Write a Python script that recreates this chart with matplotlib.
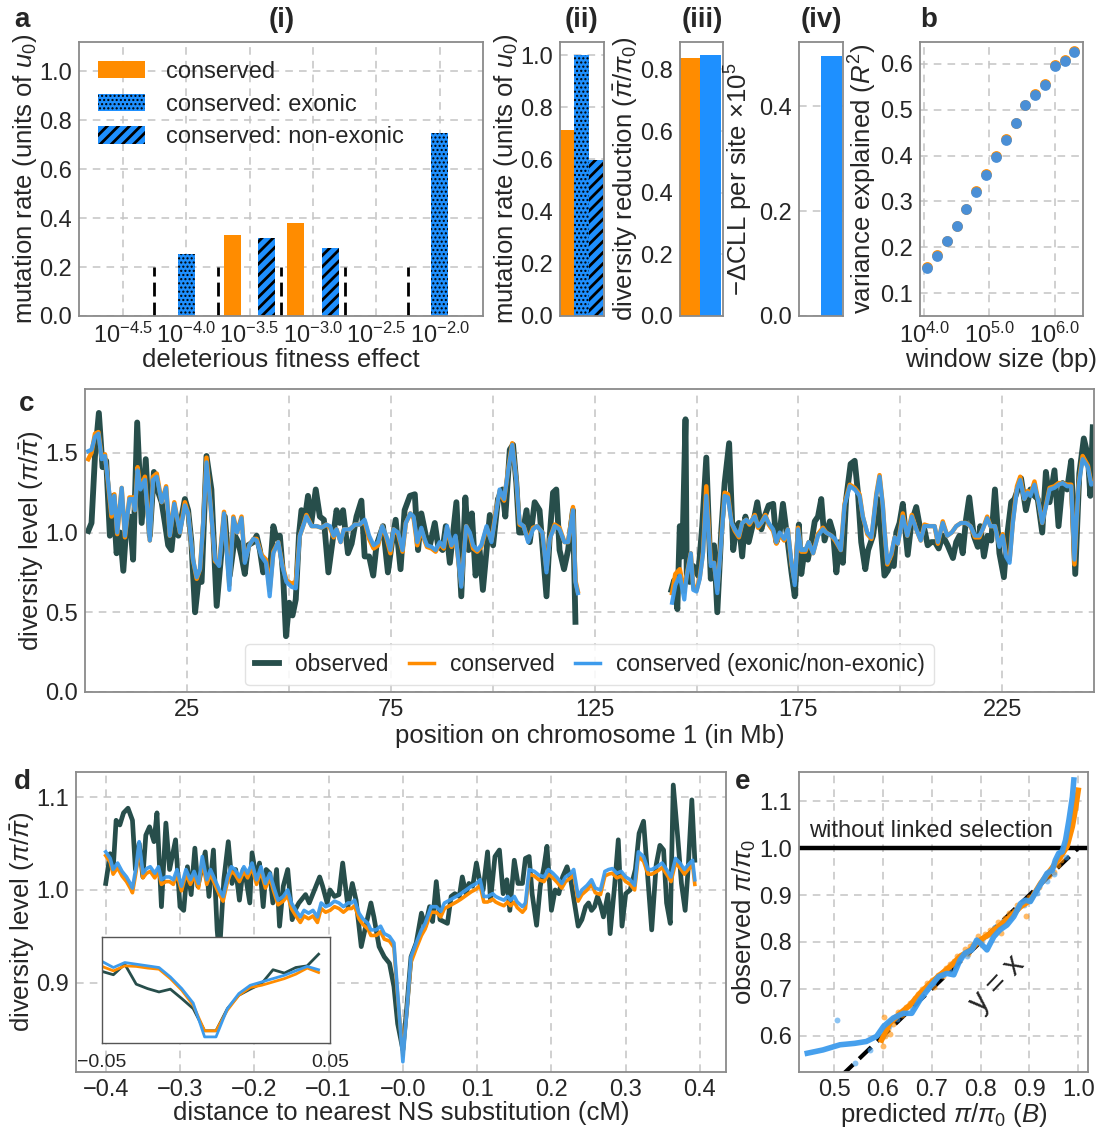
import numpy as np
import matplotlib
matplotlib.use("Agg")
import matplotlib.pyplot as plt
from matplotlib.lines import Line2D

# ---------------- data ----------------
# (a-i) distribution of fitness effects
dfe_labels = ["$10^{-4.5}$", "$10^{-4.0}$", "$10^{-3.5}$", "$10^{-3.0}$", "$10^{-2.5}$", "$10^{-2.0}$"]
dfe_conserved = [0.0, 0.0, 0.330, 0.382, 0.0, 0.0]
dfe_exonic = [0.0, 0.252, 0.0, 0.0, 0.0, 0.748]
dfe_nonexonic = [0.0, 0.0, 0.317, 0.280, 0.0, 0.0]
dfe_marker_height = 0.2

# (a-ii) total mutation rate, (a-iii) mean reduction, (a-iv) -dCLL
total_u = [0.713, 1.0, 0.598]
mean_reduction = [0.838, 0.846]
delta_cll = [0.0, 0.497]

# (b) variance explained vs window size
window_bp = [11220, 15850, 22390, 31620, 44670, 63100, 89130, 125900,
             177800, 251200, 354800, 501200, 707900, 1000000, 1413000, 1995000]
r2_conserved = [0.156, 0.183, 0.214, 0.247, 0.284, 0.322, 0.359, 0.399,
                0.436, 0.472, 0.511, 0.534, 0.557, 0.597, 0.609, 0.628]
r2_exonic = [0.155, 0.182, 0.213, 0.246, 0.283, 0.321, 0.358, 0.398,
             0.435, 0.471, 0.510, 0.533, 0.555, 0.595, 0.607, 0.626]

# (c) chromosome 1 diversity maps (Mb, pi / mean pi)
c_obs_pos = [0.8, 1.6, 2.45, 3.4, 4.3, 5.2, 6.1, 6.9, 7.75, 8.6,
             9.4, 10.2, 11.0, 11.8, 12.8, 13.9, 14.9, 15.9, 16.9, 18.0,
             18.8, 19.6, 20.4, 21.2, 22.1, 22.9, 23.7, 24.5, 25.3, 26.1,
             27.0, 27.8, 28.6, 29.8, 31.0, 32.3, 33.5, 34.3, 35.5, 36.8,
             37.6, 38.4, 39.2, 40.0, 41.3, 42.1, 42.9, 43.7, 44.5, 45.3,
             46.2, 47.0, 47.8, 48.6, 49.3, 50.1, 50.9, 51.7, 52.5, 53.1,
             54.0, 54.7, 55.5, 56.6, 57.6, 58.6, 59.7, 60.9, 61.7, 62.5,
             63.3, 64.5, 65.4, 66.6, 67.8, 68.6, 69.7, 70.7, 71.5, 72.3,
             73.1, 74.3, 75.2, 76.2, 77.4, 78.4, 79.7, 80.9, 81.7, 82.5,
             83.6, 84.6, 85.8, 86.6, 87.7, 88.5, 89.5, 91.1, 92.3, 93.3,
             94.1, 94.9, 95.8, 96.8, 97.6, 99.3, 100.1, 101.3, 102.4, 103.1,
             104.2, 105.0, 105.8, 106.5, 107.4, 108.3, 109.1, 110.3, 111.5, 113.2,
             114.0, 114.8, 115.6, 116.4, 117.5, 118.5, 119.7, 120.3,
             130.0,
             143.85, 144.5, 145.3, 145.9, 146.5, 147.3, 147.6, 148.3, 149.2, 150.4,
             151.4, 152.4, 153.5, 154.3, 155.1, 156.1, 156.9, 158.0, 159.0, 159.8,
             160.4, 161.2, 162.0, 162.8, 163.9, 164.9, 165.9, 166.7, 167.7, 168.8,
             169.6, 170.4, 171.2, 172.3, 173.3, 174.1, 175.1, 175.7, 176.5, 177.3,
             178.2, 179.0, 179.8, 180.6, 181.4, 182.7, 183.5, 184.3, 185.1, 185.9,
             186.7, 187.8, 188.8, 189.6, 190.4, 191.4, 192.1, 193.3, 194.5, 195.3,
             196.1, 196.9, 197.7, 198.4, 199.0, 199.8, 200.6, 201.8, 202.7, 203.9,
             204.9, 205.9, 206.7, 207.6, 208.5, 209.4, 210.4, 211.6, 212.9, 213.7,
             214.5, 215.3, 216.1, 216.9, 218.0, 219.0, 219.6, 220.5, 221.4, 222.3,
             223.2, 224.3, 225.4, 226.2, 227.2, 228.0, 228.8, 229.6, 230.8, 231.9,
             232.9, 233.7, 234.8, 235.7, 236.6, 237.8, 238.8, 239.8, 240.9, 241.9,
             242.9, 243.9, 245.0, 246.0, 246.6, 247.2]
c_obs = [1.01, 1.06, 1.48, 1.75, 1.41, 1.45, 0.98, 1.23, 0.87, 1.00,
         0.76, 1.06, 1.10, 0.83, 1.69, 1.06, 1.46, 0.98, 1.38, 1.25,
         1.19, 1.06, 0.92, 0.89, 1.12, 0.98, 1.10, 1.21, 1.14, 0.94,
         0.50, 0.69, 0.69, 1.48, 1.27, 0.54, 0.89, 1.10, 0.73, 0.98,
         0.94, 0.85, 0.74, 0.92, 0.94, 0.98, 0.89, 0.75, 0.81, 0.73,
         1.04, 0.96, 0.98, 0.73, 0.35, 0.56, 0.48, 0.58, 0.99, 1.14,
         1.10, 1.23, 1.06, 1.27, 1.10, 1.08, 0.75, 0.98, 1.14, 1.06,
         1.14, 0.87, 0.93, 1.10, 1.20, 0.85, 0.85, 0.73, 0.92, 0.98,
         1.04, 0.75, 0.92, 1.08, 0.77, 1.14, 1.23, 1.24, 0.89, 1.12,
         0.98, 0.92, 1.06, 0.92, 0.89, 1.04, 0.81, 1.19, 0.60, 1.22,
         0.89, 1.12, 0.73, 0.89, 0.64, 1.11, 0.92, 1.21, 1.27, 1.10,
         1.52, 1.55, 1.31, 1.00, 1.00, 1.14, 0.94, 1.19, 1.14, 0.60,
         0.98, 1.25, 1.27, 0.89, 0.77, 0.89, 1.14, 0.44,
         np.nan,
         0.64, 0.70, 0.52, 1.04, 0.85, 1.71, 0.74, 0.69, 0.79, 0.73,
         1.04, 1.47, 0.71, 0.92, 0.50, 1.02, 1.31, 1.56, 0.89, 1.04,
         1.06, 0.85, 1.10, 0.94, 1.06, 1.19, 1.02, 1.10, 1.17, 1.18,
         0.94, 1.00, 1.18, 0.96, 0.75, 0.60, 1.05, 0.74, 0.89, 0.83,
         0.94, 1.07, 1.10, 1.21, 0.95, 1.07, 1.00, 0.75, 0.94, 0.81,
         1.21, 1.43, 1.45, 1.25, 0.94, 0.77, 0.89, 0.98, 1.21, 0.99,
         0.73, 0.76, 0.81, 0.79, 1.00, 1.06, 1.18, 0.86, 1.06, 1.16,
         1.02, 1.02, 0.92, 0.94, 0.94, 0.90, 0.98, 0.92, 0.84, 0.94,
         0.98, 0.87, 1.08, 1.22, 0.98, 0.91, 1.04, 0.85, 0.98, 0.95,
         1.27, 0.87, 0.72, 0.98, 1.19, 1.21, 1.27, 1.34, 1.14, 1.27,
         1.23, 1.21, 1.00, 1.38, 1.19, 1.39, 1.04, 1.31, 1.27, 1.45,
         0.74, 1.37, 1.59, 1.48, 1.23, 1.66]

c_pred_pos = [0.8, 1.6, 2.45, 3.3, 4.1, 4.9, 5.7, 6.5, 7.2, 7.9,
              9.0, 9.8, 10.9, 11.7, 12.25, 12.9, 13.6, 14.7, 15.9, 16.7,
              17.6, 18.8, 19.9, 20.8, 21.9, 22.7, 23.3, 24.5, 25.3, 26.5,
              27.4, 28.2, 29.0, 29.8, 30.8, 31.9, 32.9, 34.1, 35.4, 36.4,
              37.3, 38.4, 39.2, 40.3, 41.3, 42.1, 43.3, 44.4, 45.3, 46.2,
              47.4, 48.4, 49.4, 50.6, 51.7, 52.7, 53.5, 54.3, 55.6, 56.8,
              58.0, 59.2, 60.1, 61.0, 61.7, 62.7, 63.5, 65.0, 66.2, 67.4,
              68.6, 69.7, 70.8, 71.9, 72.9, 73.9, 74.9, 75.7, 76.8, 77.9,
              78.7, 79.8, 80.6, 81.5, 82.5, 83.3, 83.9, 85.0, 86.0, 87.0,
              88.0, 88.8, 89.9, 90.9, 92.3, 93.5, 94.4, 95.2, 96.2, 97.2,
              98.5, 99.7, 100.9, 101.7, 102.8, 103.8, 104.8, 105.8, 106.6, 107.6,
              108.7, 109.9, 110.9, 112.2, 113.2, 114.0, 115.2, 116.4, 117.6, 118.5,
              119.7, 120.3, 120.9,
              130.0,
              144.0, 144.8, 145.9, 147.0, 147.5, 148.6, 149.2, 150.0, 150.8, 151.6,
              152.4, 153.5, 154.3, 155.1, 156.1, 156.9, 157.7, 158.6, 159.4, 160.4,
              161.2, 162.2, 163.0, 164.3, 165.1, 165.9, 166.9, 167.7, 168.8, 169.6,
              170.4, 171.5, 172.4, 173.3, 174.1, 174.9, 175.7, 176.7, 177.5, 178.6,
              179.8, 181.0, 181.8, 183.1, 184.0, 185.4, 186.3, 187.6, 188.8, 190.0,
              190.8, 191.9, 192.9, 194.1, 194.9, 195.7, 196.1, 196.8, 197.8, 198.6,
              199.4, 200.6, 201.7, 202.8, 203.9, 205.0, 205.9, 207.1, 208.4, 209.2,
              210.4, 211.5, 212.6, 213.7, 214.9, 216.1, 217.2, 218.3, 219.4, 220.2,
              221.3, 222.1, 223.2, 224.3, 225.1, 225.9, 226.8, 227.6, 228.6, 229.4,
              230.4, 231.2, 231.9, 232.9, 233.9, 234.8, 235.7, 236.6, 237.8, 238.8,
              239.8, 240.9, 241.9, 242.7, 243.7, 244.7, 246.0, 246.8, 247.4]
c_exonic = [1.51, 1.52, 1.60, 1.62, 1.46, 1.48, 1.31, 1.12, 1.23, 1.00,
            1.28, 0.98, 1.21, 1.21, 1.14, 1.39, 1.27, 1.33, 0.95, 1.33,
            1.35, 1.19, 1.28, 0.98, 1.18, 1.08, 1.00, 1.17, 1.12, 0.83,
            0.72, 0.77, 1.06, 1.44, 1.17, 0.83, 0.79, 1.12, 0.64, 1.09,
            1.00, 1.09, 0.81, 0.92, 0.96, 0.95, 0.85, 0.81, 0.60, 0.87,
            0.94, 0.79, 0.69, 0.66, 0.65, 0.98, 1.04, 1.10, 1.04, 1.04,
            1.03, 1.05, 1.04, 0.98, 1.02, 0.94, 1.02, 1.02, 1.05, 1.05,
            1.08, 0.98, 0.92, 0.94, 1.04, 0.98, 0.89, 1.02, 1.00, 0.89,
            1.06, 1.12, 1.10, 0.94, 1.03, 0.96, 0.92, 0.91, 0.89, 0.94,
            0.91, 1.04, 0.92, 0.98, 0.66, 1.04, 1.00, 0.92, 0.89, 0.92,
            1.04, 0.94, 1.14, 1.27, 1.21, 1.39, 1.55, 1.33, 1.06, 1.04,
            0.94, 1.02, 1.04, 1.00, 0.75, 0.96, 1.04, 1.02, 0.94, 0.94,
            1.14, 0.69, 0.62,
            np.nan,
            0.56, 0.67, 0.73, 0.58, 0.71, 0.87, 0.64, 0.63, 0.71, 0.87,
            1.23, 0.79, 0.81, 0.62, 0.96, 1.23, 1.22, 1.06, 1.02, 0.98,
            1.06, 1.08, 1.06, 1.10, 1.04, 1.06, 1.10, 1.06, 1.02, 0.94,
            1.00, 0.96, 1.02, 0.81, 0.67, 1.02, 0.89, 0.89, 0.94, 0.87,
            0.98, 1.02, 1.00, 0.98, 0.96, 0.89, 1.17, 1.29, 1.27, 1.23,
            1.10, 1.00, 0.97, 1.23, 1.35, 1.17, 1.02, 0.81, 0.87, 0.97,
            0.93, 1.10, 0.98, 1.10, 1.02, 0.95, 1.04, 1.04, 1.04, 0.94,
            1.06, 0.98, 1.00, 1.04, 1.06, 1.06, 1.04, 0.98, 0.98, 1.02,
            1.09, 1.04, 1.04, 0.91, 0.98, 0.85, 0.81, 1.06, 1.27, 1.33,
            1.21, 1.25, 1.23, 1.30, 1.19, 1.06, 1.16, 1.27, 1.28, 1.30,
            1.31, 1.29, 1.29, 0.83, 1.29, 1.46, 1.41, 1.30, 1.31]
c_conserved = [1.46, 1.50, 1.62, 1.63, 1.47, 1.49, 1.30, 1.10, 1.24, 0.99,
               1.28, 0.97, 1.22, 1.22, 1.14, 1.41, 1.28, 1.35, 0.95, 1.35,
               1.37, 1.19, 1.29, 0.98, 1.19, 1.08, 1.00, 1.19, 1.12, 0.83,
               0.71, 0.77, 1.06, 1.47, 1.17, 0.82, 0.80, 1.13, 0.67, 1.10,
               1.00, 1.10, 0.82, 0.92, 0.96, 0.96, 0.86, 0.83, 0.64, 0.88,
               0.94, 0.80, 0.70, 0.68, 0.69, 0.98, 1.04, 1.11, 1.04, 1.04,
               1.03, 1.05, 1.03, 0.97, 1.02, 0.94, 1.02, 1.02, 1.05, 1.05,
               1.07, 0.96, 0.90, 0.92, 1.04, 0.97, 0.87, 1.02, 0.99, 0.88,
               1.06, 1.12, 1.09, 0.92, 1.02, 0.95, 0.91, 0.90, 0.88, 0.93,
               0.90, 1.03, 0.91, 0.97, 0.67, 1.04, 0.99, 0.90, 0.88, 0.91,
               1.03, 0.95, 1.15, 1.26, 1.20, 1.40, 1.56, 1.33, 1.05, 1.04,
               0.95, 1.03, 1.04, 1.00, 0.77, 0.96, 1.05, 1.03, 0.94, 0.94,
               1.16, 0.70, 0.63,
               np.nan,
               0.62, 0.74, 0.77, 0.63, 0.72, 0.87, 0.66, 0.64, 0.72, 0.88,
               1.29, 0.81, 0.81, 0.64, 0.97, 1.25, 1.24, 1.06, 1.01, 0.97,
               1.06, 1.08, 1.05, 1.11, 1.03, 1.06, 1.11, 1.05, 1.01, 0.93,
               0.99, 0.95, 1.02, 0.80, 0.69, 1.03, 0.88, 0.88, 0.94, 0.87,
               0.99, 1.03, 1.00, 0.98, 0.95, 0.89, 1.18, 1.30, 1.28, 1.24,
               1.10, 0.99, 0.96, 1.24, 1.36, 1.17, 1.02, 0.80, 0.86, 0.97,
               0.93, 1.12, 0.98, 1.11, 1.02, 0.95, 1.05, 1.04, 1.04, 0.93,
               1.07, 0.98, 1.00, 1.04, 1.06, 1.06, 1.04, 0.97, 0.97, 1.02,
               1.10, 1.04, 1.04, 0.92, 0.99, 0.86, 0.83, 1.07, 1.29, 1.35,
               1.21, 1.26, 1.24, 1.32, 1.19, 1.06, 1.17, 1.28, 1.29, 1.31,
               1.31, 1.30, 1.30, 0.80, 1.30, 1.48, 1.42, 1.31, 1.31]

# (d) diversity around non-synonymous substitutions (cM)
d_obs_pos = [-0.400, -0.394, -0.390, -0.386, -0.381, -0.376, -0.370, -0.364, -0.360, -0.355,
             -0.350, -0.346, -0.341, -0.335, -0.331, -0.325, -0.319, -0.314, -0.310, -0.306,
             -0.300, -0.295, -0.290, -0.285, -0.280, -0.276, -0.271, -0.266, -0.261, -0.255,
             -0.250, -0.247, -0.241, -0.235, -0.230, -0.225, -0.220, -0.215, -0.211, -0.206,
             -0.203, -0.197, -0.193, -0.188, -0.184, -0.179, -0.175, -0.170, -0.166, -0.161,
             -0.155, -0.149, -0.144, -0.140, -0.135, -0.131, -0.126, -0.121, -0.117, -0.112,
             -0.108, -0.102, -0.098, -0.092, -0.086, -0.081, -0.074, -0.068, -0.063, -0.056,
             -0.050, -0.043, -0.039, -0.032, -0.025, -0.018, -0.012, -0.007, 0.000, 0.005,
             0.011, 0.018, 0.025, 0.030, 0.036, 0.040, 0.045, 0.050, 0.055, 0.060,
             0.065, 0.070, 0.076, 0.080, 0.085, 0.089, 0.094, 0.099, 0.104, 0.108,
             0.114, 0.118, 0.124, 0.130, 0.135, 0.140, 0.144, 0.150, 0.155, 0.161,
             0.165, 0.170, 0.174, 0.180, 0.185, 0.190, 0.194, 0.200, 0.205, 0.210,
             0.215, 0.221, 0.226, 0.230, 0.236, 0.241, 0.246, 0.250, 0.254, 0.258,
             0.262, 0.266, 0.270, 0.276, 0.279, 0.285, 0.290, 0.295, 0.300, 0.306,
             0.313, 0.318, 0.324, 0.330, 0.335, 0.341, 0.346, 0.351, 0.355, 0.360,
             0.364, 0.370, 0.375, 0.380, 0.384, 0.389, 0.393]
d_obs = [1.007, 1.039, 1.022, 1.075, 1.070, 1.083, 1.088, 1.075, 1.022, 1.050,
         1.014, 1.059, 1.068, 1.052, 1.083, 0.982, 1.072, 1.022, 1.038, 1.054,
         0.982, 0.978, 1.025, 0.995, 1.045, 1.004, 1.022, 1.041, 0.993, 1.043,
         0.957, 0.930, 1.011, 1.052, 1.007, 1.022, 0.989, 1.022, 1.011, 0.986,
         1.040, 1.011, 1.029, 0.982, 1.022, 1.018, 0.986, 1.022, 0.961, 1.004,
         1.022, 0.968, 0.980, 0.986, 0.991, 0.995, 0.986, 0.996, 1.004, 1.014,
         1.004, 0.986, 1.000, 0.993, 0.995, 1.029, 0.982, 1.007, 0.989, 0.939,
         0.961, 0.986, 0.971, 0.939, 0.928, 0.921, 0.896, 0.856, 0.828, 0.871,
         0.928, 0.943, 0.975, 0.961, 0.982, 0.966, 1.009, 0.968, 0.966, 0.964,
         0.993, 0.996, 0.993, 1.014, 0.996, 1.007, 1.004, 1.029, 1.007, 1.000,
         1.041, 0.989, 1.036, 1.043, 0.996, 1.011, 0.978, 1.032, 1.007, 1.007,
         1.034, 1.036, 0.996, 0.962, 1.004, 1.025, 1.047, 0.978, 1.000, 0.996,
         1.014, 1.025, 1.011, 0.991, 0.961, 0.968, 0.982, 0.986, 0.978, 0.982,
         0.993, 0.984, 0.971, 0.995, 0.953, 1.004, 1.054, 0.961, 0.996, 1.000,
         1.022, 1.061, 1.074, 1.011, 0.957, 1.027, 1.048, 1.043, 0.986, 0.964,
         1.113, 1.057, 1.007, 0.978, 1.022, 1.097, 1.032]

d_pred_pos = [-0.400, -0.394, -0.390, -0.384, -0.378, -0.372, -0.367, -0.364, -0.359, -0.355,
              -0.350, -0.345, -0.340, -0.334, -0.329, -0.325, -0.319, -0.314, -0.309, -0.304,
              -0.298, -0.292, -0.286, -0.281, -0.275, -0.270, -0.264, -0.259, -0.253, -0.247,
              -0.242, -0.236, -0.231, -0.226, -0.220, -0.214, -0.209, -0.203, -0.197, -0.191,
              -0.185, -0.179, -0.174, -0.168, -0.161, -0.155, -0.150, -0.144, -0.138, -0.133,
              -0.127, -0.121, -0.115, -0.110, -0.104, -0.098, -0.092, -0.086, -0.080, -0.074,
              -0.069, -0.065, -0.059, -0.054, -0.047, -0.043, -0.036, -0.030, -0.025, -0.018,
              -0.012, -0.008, 0.000, 0.011, 0.018, 0.025, 0.030, 0.038, 0.045, 0.051,
              0.056, 0.063, 0.072, 0.078, 0.085, 0.092, 0.099, 0.104, 0.109, 0.114,
              0.121, 0.125, 0.130, 0.136, 0.141, 0.145, 0.150, 0.154, 0.161, 0.165,
              0.170, 0.177, 0.183, 0.190, 0.196, 0.202, 0.208, 0.214, 0.219, 0.226,
              0.230, 0.236, 0.241, 0.248, 0.254, 0.259, 0.266, 0.272, 0.277, 0.282,
              0.288, 0.294, 0.300, 0.306, 0.312, 0.317, 0.324, 0.330, 0.335, 0.342,
              0.349, 0.355, 0.361, 0.367, 0.373, 0.379, 0.384, 0.390, 0.393]
d_exonic = [1.041, 1.034, 1.022, 1.029, 1.020, 1.014, 1.007, 1.002, 1.025, 1.052,
            1.018, 1.023, 1.025, 1.018, 1.025, 1.011, 1.014, 1.014, 1.011, 1.022,
            1.004, 1.022, 1.011, 1.020, 1.007, 1.036, 1.011, 1.022, 1.011, 1.000,
            0.993, 1.014, 1.025, 1.022, 1.014, 1.025, 1.018, 1.029, 1.011, 1.025,
            1.007, 1.018, 1.004, 0.989, 0.993, 1.000, 0.986, 0.978, 0.971, 0.978,
            0.975, 0.978, 0.971, 0.986, 0.982, 0.984, 0.988, 0.986, 0.982, 0.986,
            0.986, 0.989, 0.975, 0.969, 0.964, 0.957, 0.957, 0.961, 0.953, 0.950,
            0.943, 0.899, 0.815, 0.928, 0.943, 0.957, 0.964, 0.982, 0.982, 0.977,
            0.986, 0.989, 0.993, 0.996, 1.000, 1.004, 1.007, 1.011, 0.993, 0.993,
            0.996, 0.993, 0.991, 0.989, 0.993, 0.989, 0.993, 0.987, 0.982, 0.986,
            1.022, 1.020, 1.016, 1.014, 1.022, 1.018, 1.013, 1.007, 1.014, 1.018,
            1.022, 0.993, 1.000, 1.005, 1.011, 1.002, 1.000, 1.020, 1.022, 1.023,
            1.018, 1.020, 1.014, 1.011, 1.005, 1.041, 1.036, 1.022, 1.022, 1.025,
            1.029, 1.022, 1.014, 1.034, 1.029, 1.022, 1.027, 1.032, 1.011]
d_conserved = [1.037, 1.030, 1.017, 1.024, 1.015, 1.009, 1.002, 0.997, 1.020, 1.047,
               1.013, 1.018, 1.020, 1.013, 1.020, 1.006, 1.009, 1.009, 1.006, 1.017,
               0.999, 1.017, 1.006, 1.015, 1.002, 1.031, 1.006, 1.017, 1.006, 0.995,
               0.988, 1.009, 1.020, 1.017, 1.009, 1.020, 1.013, 1.024, 1.006, 1.020,
               1.002, 1.013, 0.999, 0.984, 0.988, 0.994, 0.980, 0.972, 0.965, 0.972,
               0.969, 0.972, 0.965, 0.980, 0.976, 0.978, 0.982, 0.980, 0.976, 0.980,
               0.980, 0.983, 0.969, 0.963, 0.958, 0.951, 0.951, 0.955, 0.947, 0.945,
               0.938, 0.895, 0.822, 0.922, 0.937, 0.951, 0.958, 0.976, 0.976, 0.971,
               0.980, 0.983, 0.987, 0.990, 0.994, 0.998, 1.001, 1.005, 0.987, 0.987,
               0.990, 0.987, 0.985, 0.983, 0.987, 0.983, 0.987, 0.981, 0.976, 0.980,
               1.017, 1.015, 1.011, 1.009, 1.017, 1.013, 1.008, 1.002, 1.009, 1.013,
               1.017, 0.988, 0.995, 1.000, 1.006, 0.997, 0.995, 1.015, 1.017, 1.018,
               1.013, 1.015, 1.009, 1.006, 1.000, 1.036, 1.031, 1.017, 1.017, 1.020,
               1.024, 1.017, 1.009, 1.029, 1.024, 1.017, 1.022, 1.027, 1.006]

# (d, inset) fine-scale view around the substitution
inset_pos = [-0.050, -0.045, -0.040, -0.035, -0.030, -0.025, -0.020, -0.015, -0.010, -0.005,
             0.000, 0.005, 0.010, 0.015, 0.020, 0.025, 0.030, 0.035, 0.040, 0.045]
inset_obs = [0.937, 0.931, 0.950, 0.914, 0.906, 0.900, 0.905, 0.888, 0.870, 0.830,
             0.830, 0.870, 0.894, 0.905, 0.915, 0.940, 0.934, 0.944, 0.947, 0.968]
inset_exonic = [0.955, 0.944, 0.953, 0.950, 0.947, 0.944, 0.927, 0.906, 0.880, 0.819,
                0.819, 0.870, 0.897, 0.912, 0.918, 0.924, 0.930, 0.938, 0.946, 0.940]
inset_conserved = [0.946, 0.938, 0.947, 0.946, 0.943, 0.941, 0.924, 0.903, 0.876, 0.830,
                   0.830, 0.867, 0.894, 0.908, 0.912, 0.918, 0.924, 0.932, 0.943, 0.935]

# (e) observed vs predicted diversity
e_cons_x = [0.600, 0.602, 0.605, 0.610, 0.615, 0.620, 0.625, 0.630, 0.640, 0.648,
            0.655, 0.665, 0.672, 0.680, 0.690, 0.700, 0.705, 0.712, 0.722, 0.730,
            0.738, 0.745, 0.752, 0.760, 0.768, 0.775, 0.778, 0.785, 0.795, 0.800,
            0.810, 0.820, 0.828, 0.835, 0.842, 0.850, 0.858, 0.868, 0.875, 0.885,
            0.893, 0.900, 0.910, 0.920, 0.930, 0.940, 0.950, 0.958, 0.965]
e_cons_y = [0.578, 0.640, 0.600, 0.615, 0.605, 0.625, 0.640, 0.650, 0.645, 0.662,
            0.670, 0.680, 0.690, 0.700, 0.712, 0.718, 0.705, 0.730, 0.728, 0.745,
            0.752, 0.760, 0.770, 0.773, 0.785, 0.775, 0.792, 0.795, 0.812, 0.800,
            0.818, 0.825, 0.830, 0.842, 0.820, 0.850, 0.862, 0.866, 0.878, 0.880,
            0.856, 0.896, 0.905, 0.918, 0.935, 0.940, 0.948, 0.963, 0.975]
e_exon_x = [0.506, 0.542, 0.573, 0.600, 0.612, 0.628, 0.645, 0.660, 0.675, 0.690,
            0.703, 0.720, 0.735, 0.748, 0.760, 0.772, 0.790, 0.805, 0.815, 0.830,
            0.845, 0.860, 0.872, 0.888, 0.900, 0.915, 0.935, 0.950, 0.962, 0.975]
e_exon_y = [0.634, 0.543, 0.570, 0.600, 0.620, 0.635, 0.650, 0.660, 0.685, 0.700,
            0.712, 0.730, 0.740, 0.748, 0.765, 0.770, 0.800, 0.808, 0.815, 0.832,
            0.845, 0.850, 0.868, 0.878, 0.890, 0.905, 0.930, 0.945, 0.992, 0.980]
e_cons_line_x = [0.597, 0.614, 0.635, 0.656, 0.676, 0.697, 0.717, 0.738, 0.758, 0.779,
                 0.799, 0.820, 0.840, 0.861, 0.882, 0.902, 0.923, 0.943, 0.964, 0.977,
                 0.988, 0.995, 1.000]
e_cons_line_y = [0.591, 0.627, 0.648, 0.666, 0.691, 0.712, 0.730, 0.748, 0.769, 0.783,
                 0.804, 0.818, 0.836, 0.854, 0.875, 0.889, 0.925, 0.953, 0.982, 1.003,
                 1.046, 1.088, 1.123]
e_exon_line_x = [0.445, 0.477, 0.512, 0.542, 0.566, 0.587, 0.601, 0.621, 0.642, 0.659,
                 0.676, 0.697, 0.714, 0.731, 0.745, 0.758, 0.768, 0.782, 0.792, 0.803,
                 0.813, 0.827, 0.840, 0.854, 0.868, 0.882, 0.892, 0.902, 0.912, 0.926,
                 0.936, 0.947, 0.953, 0.960, 0.967, 0.974, 0.981, 0.988, 0.991]
e_exon_line_y = [0.563, 0.570, 0.581, 0.584, 0.588, 0.599, 0.620, 0.638, 0.648, 0.648,
                 0.677, 0.705, 0.726, 0.733, 0.730, 0.762, 0.776, 0.783, 0.804, 0.794,
                 0.783, 0.811, 0.826, 0.836, 0.854, 0.882, 0.889, 0.886, 0.904, 0.928,
                 0.946, 0.953, 0.974, 0.989, 0.992, 1.017, 1.060, 1.109, 1.145]

# ---------------- style ----------------
ORANGE = "#ff8c00"
BLUE = "#1e90ff"
DARK = "#274e4b"
LBLUE = "#3d9bec"
PBLUE = "#4a8fd6"
GRID_KW = dict(color="#c4c4c4", linestyle=(0, (5, 4)), linewidth=1.1)
DOT_LW = 1.0      # hatch line width for the dotted (exonic) bars
STRIPE_LW = 2.0   # hatch line width for the striped (non-exonic) bars

plt.rcParams.update({
    "font.family": ["Liberation Sans", "DejaVu Sans"],
    "mathtext.fontset": "custom",
    "mathtext.rm": "Liberation Sans",
    "mathtext.it": "Liberation Sans:italic",
    "mathtext.bf": "Liberation Sans:bold",
    "font.size": 17,
    "axes.labelsize": 18.5,
    "xtick.labelsize": 17,
    "ytick.labelsize": 17,
    "axes.edgecolor": "#8a8a8a",
    "axes.linewidth": 1.3,
    "axes.labelcolor": "#262626",
    "text.color": "#262626",
    "xtick.color": "#262626",
    "ytick.color": "#262626",
    "xtick.major.size": 0,
    "ytick.major.size": 0,
    "xtick.minor.size": 0,
    "ytick.minor.size": 0,
    "xtick.major.pad": 5,
    "ytick.major.pad": 5,
    "hatch.linewidth": STRIPE_LW,
    "axes.labelpad": 1,
})

W, H = 1111, 1127
fig = plt.figure(figsize=(W / 100, H / 100), dpi=100)


def box(l, t, r, b):
    return [l / W, 1 - b / H, (r - l) / W, (b - t) / H]


def grid(ax, x=True, y=True):
    ax.set_axisbelow(True)
    if x:
        ax.xaxis.grid(True, **GRID_KW)
    if y:
        ax.yaxis.grid(True, **GRID_KW)
    ax.tick_params(length=0)


def ftext(x, y, s, **kw):
    fig.text(x / W, 1 - y / H, s, **kw)


def thin_dots(container):
    # finer hatch strokes so the dotted pattern keeps the blue visible
    for p in container.patches:
        if hasattr(p, "set_hatch_linewidth"):
            p.set_hatch_linewidth(DOT_LW)


# ---------------- (a-i) ----------------
ax = fig.add_axes(box(79, 42, 483, 316))
idx = np.arange(len(dfe_labels))
bw = 0.27
ax.bar(idx - bw, dfe_conserved, bw, color=ORANGE, linewidth=0,
       label="conserved")
bars_ex = ax.bar(idx, dfe_exonic, bw, color=BLUE, edgecolor="black",
                 linewidth=0, hatch="....", label="conserved: exonic")
thin_dots(bars_ex)
ax.bar(idx + bw, dfe_nonexonic, bw, color=BLUE, edgecolor="black",
       linewidth=0, hatch="///", label="conserved: non-exonic")
ax.vlines(idx[:-1] + 0.5, 0, dfe_marker_height, colors="black",
          linestyles=(0, (5, 2.2)), linewidth=2.0)
ax.set_xlim(-0.69, 5.68)
ax.set_ylim(0, 1.12)
ax.set_xticks(idx)
ax.set_xticklabels(dfe_labels)
ax.set_yticks(np.arange(0, 1.01, 0.2))
ax.set_yticklabels([f"{v:.1f}" for v in np.arange(0, 1.01, 0.2)])
ax.set_xlabel("deleterious fitness effect", labelpad=0)
ax.set_ylabel("mutation rate (units of $u_0$)", labelpad=0)
grid(ax)
leg = ax.legend(loc="upper left", frameon=False, fontsize=17, handlelength=2.0,
                handleheight=0.75, borderaxespad=0.4, labelspacing=0.45,
                handletextpad=0.9)
lh = getattr(leg, "legend_handles", None) or getattr(leg, "legendHandles", [])
if len(lh) > 1 and hasattr(lh[1], "set_hatch_linewidth"):
    lh[1].set_hatch_linewidth(DOT_LW)

# ---------------- (a-ii) ----------------
ax = fig.add_axes(box(560, 42, 604, 316))
ax.bar([0], [total_u[0]], 1.0, color=ORANGE, linewidth=0)
b_ii = ax.bar([1], [total_u[1]], 1.0, color=BLUE, edgecolor="black",
              linewidth=0, hatch="....")
thin_dots(b_ii)
ax.bar([2], [total_u[2]], 1.0, color=BLUE, edgecolor="black", linewidth=0,
       hatch="///")
ax.set_xlim(-0.5, 2.55)
ax.set_ylim(0, 1.05)
ax.set_xticks([])
ax.set_yticks(np.arange(0, 1.01, 0.2))
ax.set_yticklabels([f"{v:.1f}" for v in np.arange(0, 1.01, 0.2)])
ax.set_ylabel("mutation rate (units of $u_0$)", labelpad=0)
grid(ax, x=False)

# ---------------- (a-iii) ----------------
ax = fig.add_axes(box(680, 42, 723, 316))
ax.bar([0, 1], mean_reduction, 1.0, color=[ORANGE, BLUE], linewidth=0)
ax.set_xlim(-0.5, 1.6)
ax.set_ylim(0, 0.889)
ax.set_xticks([])
ax.set_yticks(np.arange(0, 0.81, 0.2))
ax.set_yticklabels([f"{v:.1f}" for v in np.arange(0, 0.81, 0.2)])
ax.set_ylabel(r"diversity reduction ($\bar{\pi}/\pi_0$)", labelpad=1)
grid(ax, x=False)

# ---------------- (a-iv) ----------------
ax = fig.add_axes(box(799, 42, 843, 316))
ax.bar([0, 1], delta_cll, 1.0, color=[ORANGE, BLUE], linewidth=0)
ax.set_xlim(-0.55, 1.55)
ax.set_ylim(0, 0.523)
ax.set_xticks([])
ax.set_yticks([0.0, 0.2, 0.4])
ax.set_yticklabels(["0.0", "0.2", "0.4"])
ax.set_ylabel(r"$-\Delta$CLL per site $\times 10^5$", labelpad=3)
grid(ax, x=False)

# ---------------- (b) ----------------
ax = fig.add_axes(box(920, 42, 1083, 316))
ax.set_xscale("log")
ax.scatter(window_bp, r2_conserved, s=60, color=ORANGE, linewidths=0, zorder=3)
ax.scatter(window_bp, r2_exonic, s=60, color=PBLUE, linewidths=0, zorder=4)
ax.set_xlim(10 ** 3.94, 10 ** 6.43)
ax.set_ylim(0.05, 0.648)
ax.set_xticks([1e4, 1e5, 1e6])
ax.set_xticklabels(["$10^{4.0}$", "$10^{5.0}$", "$10^{6.0}$"])
ax.xaxis.set_minor_locator(matplotlib.ticker.NullLocator())
ax.set_yticks(np.arange(0.1, 0.61, 0.1))
ax.set_yticklabels([f"{v:.1f}" for v in np.arange(0.1, 0.61, 0.1)])
ax.set_xlabel("window size (bp)", labelpad=0)
ax.set_ylabel("variance explained ($R^2$)", labelpad=1)
grid(ax)

# ---------------- (c) ----------------
ax = fig.add_axes(box(85, 389, 1094, 692))
ax.plot(c_obs_pos, c_obs, color=DARK, lw=4.2, solid_joinstyle="round")
ax.plot(c_pred_pos, c_conserved, color=ORANGE, lw=3.2)
ax.plot(c_pred_pos, c_exonic, color=LBLUE, lw=3.0, alpha=0.95)
ax.set_xlim(0, 247.5)
ax.set_ylim(0, 1.9)
cticks = np.arange(25, 226, 25)
ax.set_xticks(cticks)
ax.set_xticklabels([f"{t:d}" if t % 50 == 25 else "" for t in cticks])
ax.set_yticks([0.0, 0.5, 1.0, 1.5])
ax.set_yticklabels(["0.0", "0.5", "1.0", "1.5"])
ax.set_xlabel("position on chromosome 1 (in Mb)", labelpad=2)
ax.set_ylabel(r"diversity level ($\pi/\bar{\pi}$)", labelpad=0)
grid(ax)
handles = [Line2D([], [], color=DARK, lw=4.2),
           Line2D([], [], color=ORANGE, lw=2.5),
           Line2D([], [], color=LBLUE, lw=2.5)]
ax.legend(handles, ["observed", "conserved", "conserved (exonic/non-exonic)"],
          loc="lower center", ncol=3, fontsize=16.3, frameon=True, fancybox=True,
          framealpha=0.85, edgecolor="#dddddd", borderaxespad=0.3,
          handlelength=1.1, handletextpad=0.7, columnspacing=0.9,
          bbox_to_anchor=(0.5, 0.0))

# ---------------- (d) ----------------
ax = fig.add_axes(box(76, 772, 726, 1072))
ax.plot(d_obs_pos, d_obs, color=DARK, lw=3.4)
ax.plot(d_pred_pos, d_conserved, color=ORANGE, lw=2.6)
ax.plot(d_pred_pos, d_exonic, color=LBLUE, lw=2.6, alpha=0.95)
ax.set_xlim(-0.44, 0.435)
ax.set_ylim(0.804, 1.127)
dticks = np.round(np.arange(-0.4, 0.41, 0.1), 1)
ax.set_xticks(dticks)
ax.set_xticklabels([f"{t:.1f}".replace("-", "\u2212") for t in dticks])
ax.set_yticks([0.9, 1.0, 1.1])
ax.set_yticklabels(["0.9", "1.0", "1.1"])
ax.set_xlabel("distance to nearest NS substitution (cM)", labelpad=0)
ax.set_ylabel(r"diversity level ($\pi/\bar{\pi}$)", labelpad=0)
grid(ax)

axi = fig.add_axes(box(102, 937, 330, 1043))
axi.set_facecolor("white")
axi.plot(inset_pos, inset_obs, color=DARK, lw=2.0)
axi.plot(inset_pos, inset_conserved, color=ORANGE, lw=2.0)
axi.plot(inset_pos, inset_exonic, color=LBLUE, lw=2.0)
axi.set_xlim(-0.05, 0.05)
axi.set_ylim(0.808, 0.999)
axi.set_xticks([-0.05, 0.05])
axi.set_xticklabels(["\u22120.05", "0.05"], fontsize=14)
axi.set_yticks([])
axi.tick_params(length=0, pad=8)
for s in axi.spines.values():
    s.set_edgecolor("#555555")
    s.set_linewidth(1.0)

# ---------------- (e) ----------------
ax = fig.add_axes(box(799, 772, 1088, 1072))
ax.axhline(1.0, color="black", lw=3.2, zorder=2)
ax.plot([0.4, 1.0], [0.4, 1.0], color="black", lw=3.0,
        linestyle=(0, (4, 2)), zorder=2)
ax.scatter(e_cons_x, e_cons_y, s=18, color=ORANGE, alpha=0.6, linewidths=0,
           zorder=3)
ax.scatter(e_exon_x, e_exon_y, s=18, color=LBLUE, alpha=0.6, linewidths=0,
           zorder=3)
ax.plot(e_cons_line_x, e_cons_line_y, color=ORANGE, lw=4.0, zorder=4)
ax.plot(e_exon_line_x, e_exon_line_y, color=LBLUE, lw=4.0, alpha=0.95, zorder=5)
ax.text(0.449, 1.012, "without linked selection", fontsize=17, va="bottom",
        ha="left", zorder=6)
ax.text(0.835, 0.71, "y = x", fontsize=22, rotation=47, ha="center",
        va="center", zorder=6)
ax.set_xlim(0.428, 1.02)
ax.set_ylim(0.523, 1.162)
ax.set_xticks([0.5, 0.6, 0.7, 0.8, 0.9, 1.0])
ax.set_xticklabels(["0.5", "0.6", "0.7", "0.8", "0.9", "1.0"])
ax.set_yticks([0.6, 0.7, 0.8, 0.9, 1.0, 1.1])
ax.set_yticklabels(["0.6", "0.7", "0.8", "0.9", "1.0", "1.1"])
ax.set_xlabel(r"predicted $\pi/\pi_0$ ($B$)", labelpad=0)
ax.set_ylabel(r"observed $\pi/\pi_0$", labelpad=1)
grid(ax)

# ---------------- panel letters and titles ----------------
bold = dict(fontsize=20, fontweight="bold", ha="center", va="center",
            color="#262626")
ftext(22, 20, "a", **bold)
ftext(282, 20, "(i)", **bold)
ftext(582, 20, "(ii)", **bold)
ftext(702, 20, "(iii)", **bold)
ftext(821, 20, "(iv)", **bold)
ftext(929, 20, "b", **bold)
ftext(27, 404, "c", **bold)
ftext(22, 782, "d", **bold)
ftext(743, 782, "e", **bold)

fig.savefig("out.png", dpi=100)
